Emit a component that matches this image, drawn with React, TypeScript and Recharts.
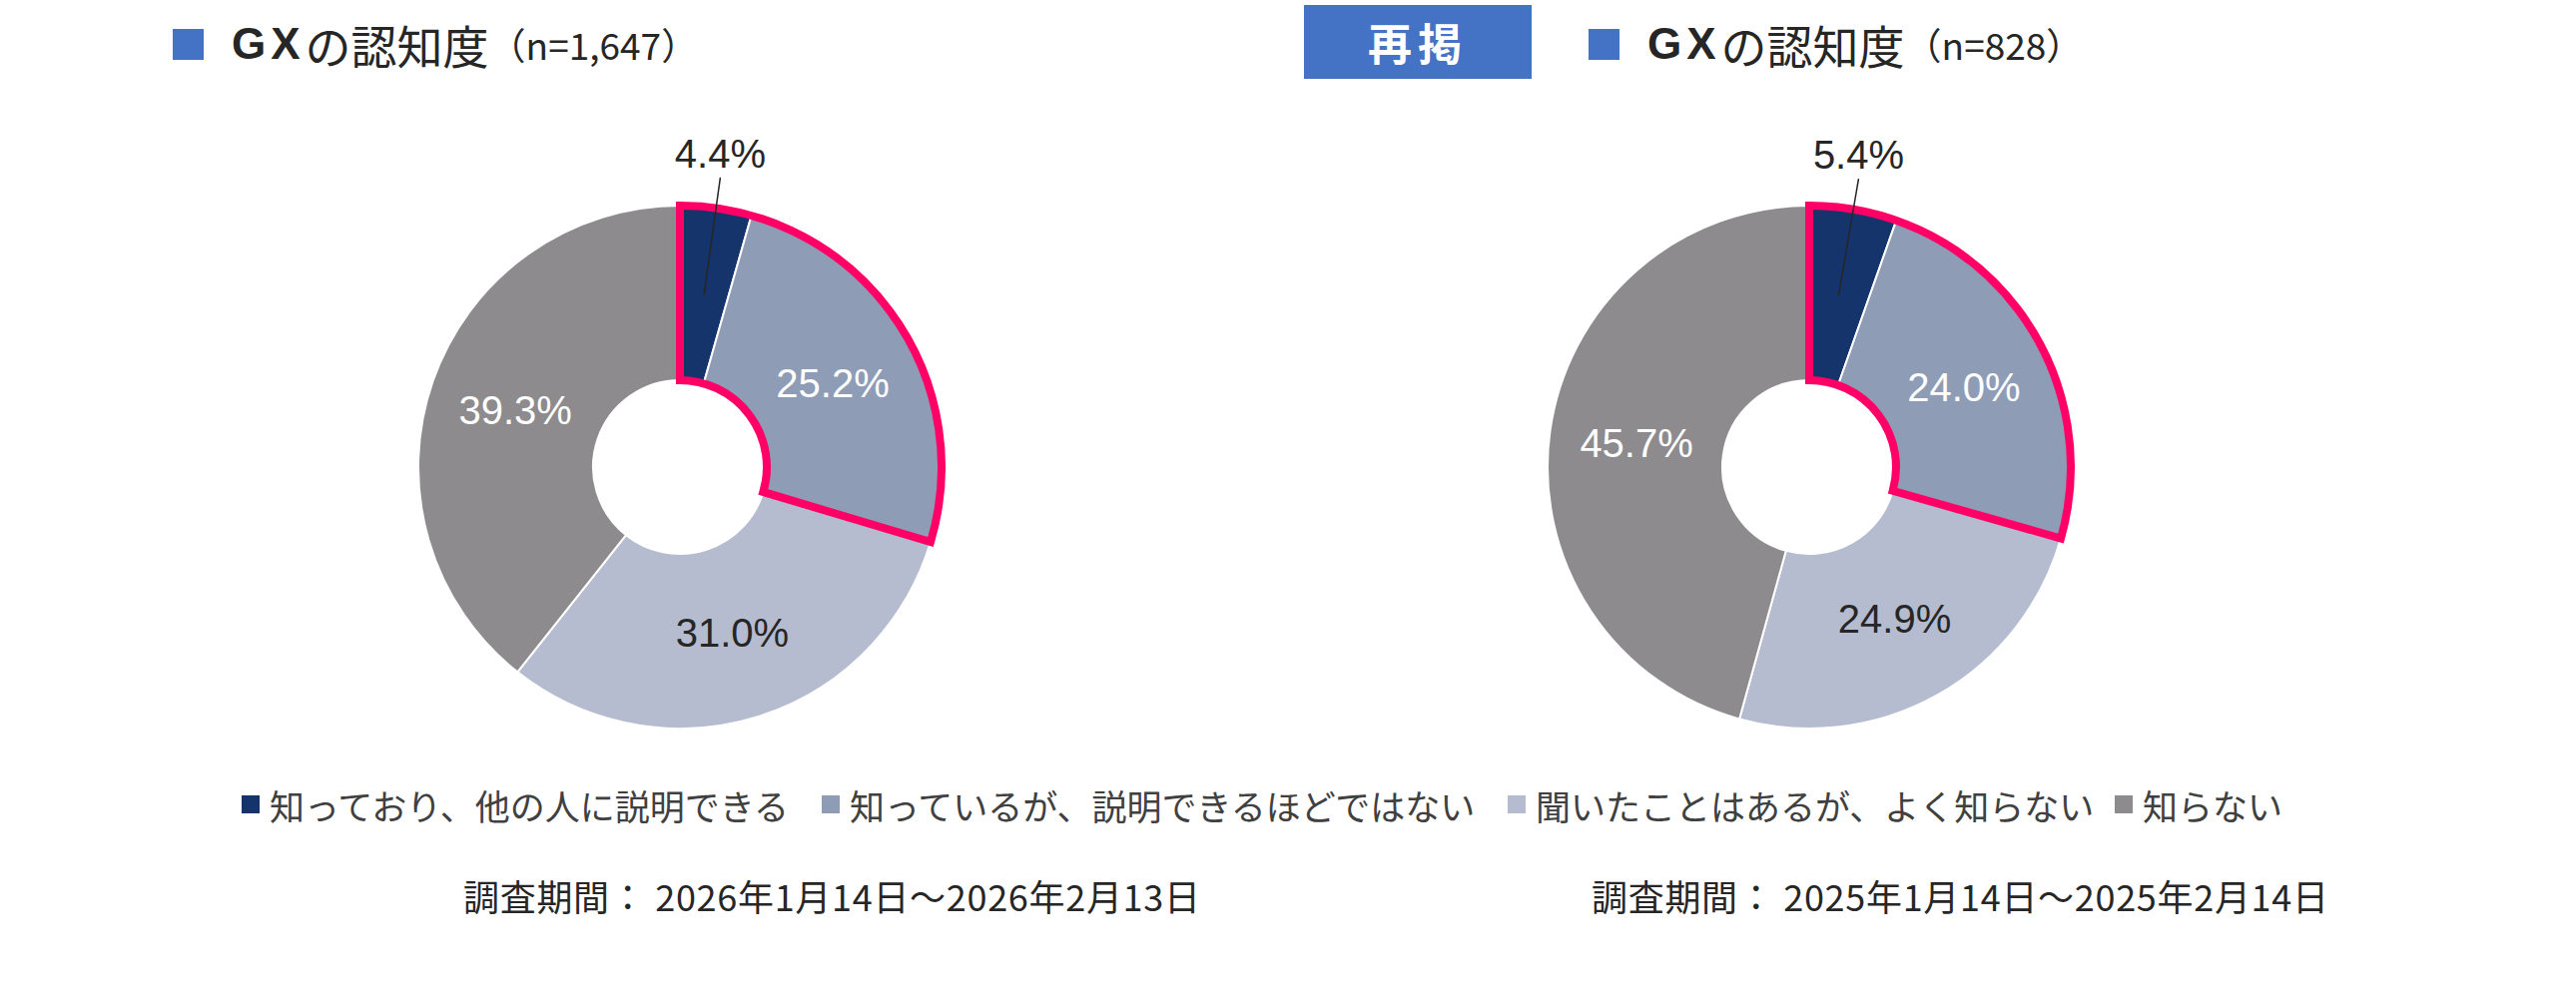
import { PieChart, Pie, Cell } from "recharts";

const categories = [
  "知っており、他の人に説明できる",
  "知っているが、説明できるほどではない",
  "聞いたことはあるが、よく知らない",
  "知らない",
];
const values2026 = [4.4, 25.2, 31.0, 39.3];
const values2025 = [5.4, 24.0, 24.9, 45.7];
const sampleSizes = ["1,647", "828"];
const periods = ["調査期間： 2026年1月14日～2026年2月13日", "調査期間： 2025年1月14日～2025年2月14日"];

const COLORS = ["#14346B", "#8E9CB6", "#B5BCCF", "#8D8B8E"];
const LABEL_COLORS = ["#262626", "#ffffff", "#262626", "#ffffff"];
const PINK = "#FF0066";
const RAD = Math.PI / 180;
const JP = '"Noto Sans CJK JP", "Noto Sans", sans-serif';
const LATIN = '"Liberation Sans", Arial, sans-serif';

const toRows = (vals: number[]) => vals.map((v, i) => ({ name: categories[i], value: v }));
const toHighlight = (vals: number[]) => [
  { name: "hl", value: vals[0] + vals[1] },
  { name: "rest", value: vals[2] + vals[3] },
];

function renderLabel(p: any) {
  const { cx, cy, midAngle, innerRadius, outerRadius, index, value } = p;
  const text = `${Number(value).toFixed(1)}%`;
  const mid = (innerRadius + outerRadius) / 2;
  const cos = Math.cos(-midAngle * RAD);
  const sin = Math.sin(-midAngle * RAD);
  if (index === 0) {
    const x1 = cx + mid * cos;
    const y1 = cy + mid * sin;
    const r2 = outerRadius + 31;
    const x2 = cx + r2 * cos;
    const y2 = cy + r2 * sin;
    return (
      <g>
        <line x1={x1} y1={y1} x2={x2} y2={y2} stroke="#262626" strokeWidth={1.5} />
        <text x={x2} y={y2 - 24} textAnchor="middle" dominantBaseline="central" fill="#262626" fontSize={40} fontFamily={LATIN}>
          {text}
        </text>
      </g>
    );
  }
  return (
    <text x={cx + mid * cos} y={cy + mid * sin} textAnchor="middle" dominantBaseline="central" fill={LABEL_COLORS[index]} fontSize={40} fontFamily={LATIN}>
      {text}
    </text>
  );
}

function Donut({ vals, cx }: { vals: number[]; cx: number }) {
  return [
    <Pie
      key="main"
      data={toRows(vals)}
      dataKey="value"
      cx={cx}
      cy={468}
      innerRadius={87}
      outerRadius={262}
      startAngle={90}
      endAngle={-270}
      stroke="#ffffff"
      strokeWidth={2}
      label={renderLabel}
      labelLine={false}
      isAnimationActive={false}
    >
      {vals.map((_, i) => (
        <Cell key={i} fill={COLORS[i]} />
      ))}
    </Pie>,
    <Pie
      key="hl"
      data={toHighlight(vals)}
      dataKey="value"
      cx={cx}
      cy={468}
      innerRadius={87}
      outerRadius={262}
      startAngle={90}
      endAngle={-270}
      isAnimationActive={false}
    >
      <Cell fill="none" stroke={PINK} strokeWidth={8} />
      <Cell fill="none" stroke="none" strokeWidth={0} />
    </Pie>,
  ];
}

function Title({ x, n }: { x: number; n: string }) {
  return (
    <div style={{ position: "absolute", left: x, top: 18, height: 52, display: "flex", alignItems: "center", color: "#262626" }}>
      <div style={{ width: 31, height: 31, background: "#4472C4", marginRight: 28 }} />
      <span style={{ fontFamily: LATIN, fontWeight: 700, fontSize: 44, letterSpacing: 5 }}>GX</span>
      <span style={{ fontFamily: JP, fontSize: 46 }}>の認知度</span>
      <span style={{ fontFamily: JP, fontSize: 37 }}>（n={n}）</span>
    </div>
  );
}

const legendX = [242, 823, 1510, 2118];

export default function App() {
  return (
    <div style={{ position: "absolute", left: 0, top: 0, width: 2580, height: 990, background: "#fff", overflow: "hidden" }}>
      <div style={{ position: "absolute", left: 0, top: 0 }}>
        <PieChart width={2580} height={990} margin={{ top: 0, right: 0, bottom: 0, left: 0 }}>
          {Donut({ vals: values2026, cx: 681 })}
          {Donut({ vals: values2025, cx: 1812 })}
        </PieChart>
      </div>
      <Title x={173} n={sampleSizes[0]} />
      <div
        style={{
          position: "absolute",
          left: 1306,
          top: 5,
          width: 228,
          height: 74,
          background: "#4472C4",
          color: "#fff",
          display: "flex",
          alignItems: "center",
          justifyContent: "center",
          fontFamily: JP,
          fontWeight: 700,
          fontSize: 44,
          letterSpacing: 6,
        }}
      >
        再掲
      </div>
      <Title x={1591} n={sampleSizes[1]} />
      {categories.map((c, i) => (
        <div key={c} style={{ position: "absolute", left: legendX[i], top: 784, height: 44, display: "flex", alignItems: "center", fontFamily: JP, fontSize: 35, color: "#404040" }}>
          <div style={{ width: 18, height: 18, background: COLORS[i], marginRight: 10 }} />
          <span>{c}</span>
        </div>
      ))}
      {periods.map((p, i) => (
        <div key={p} style={{ position: "absolute", left: i === 0 ? 464 : 1594, top: 874, height: 46, display: "flex", alignItems: "center", fontFamily: JP, fontSize: 36, letterSpacing: 0.7, color: "#262626", whiteSpace: "pre" }}>
          {p}
        </div>
      ))}
    </div>
  );
}
